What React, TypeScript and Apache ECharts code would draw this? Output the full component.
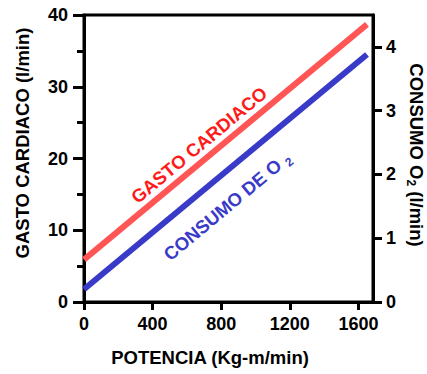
import React, { useEffect, useRef } from "react";
import * as echarts from "echarts";

const POWER = [0, 1650];
const GASTO_CARDIACO = [5.9, 38.7];
const CONSUMO_O2 = [0.2, 3.88];
const X_TICKS = [0, 400, 800, 1200, 1600];
const Y_RIGHT_TICKS = [0, 1, 2, 3, 4];

const FONT = '"Liberation Sans", Arial, Helvetica, sans-serif';
const RED_LINE = "#ff5555";
const RED_TEXT = "#ff1a1a";
const BLUE = "#3a3ac8";

export default function App() {
  const ref = useRef<HTMLDivElement>(null);
  useEffect(() => {
    document.body.style.margin = "0";
    const chart = echarts.init(ref.current!, null, { renderer: "svg" });
    const labelStyle = {
      color: "#000",
      fontFamily: FONT,
      fontWeight: "bold" as const,
      fontSize: 18,
    };
    const titleStyle = {
      fontFamily: FONT,
      fontWeight: "bold" as const,
      fontSize: 18.5,
      fill: "#000",
    };
    const fmt = (v: number) => String(v);
    const angle = (39.8 * Math.PI) / 180;
    chart.setOption({
      animation: false,
      backgroundColor: "#fff",
      grid: {
        left: 84,
        right: 54,
        top: 15,
        bottom: 72,
        show: true,
        borderColor: "#000",
        borderWidth: 3,
        backgroundColor: "transparent",
      },
      xAxis: {
        type: "value",
        min: 0,
        max: 1685,
        interval: 400,
        axisLine: { show: true, lineStyle: { color: "#000", width: 3 } },
        axisTick: {
          show: true,
          length: 8,
          lineStyle: { color: "#000", width: 3 },
          customValues: X_TICKS,
        },
        axisLabel: { ...labelStyle, margin: 13, customValues: X_TICKS, formatter: fmt },
        splitLine: { show: false },
      },
      yAxis: [
        {
          type: "value",
          min: 0,
          max: 40,
          interval: 10,
          position: "left",
          axisLine: { show: true, lineStyle: { color: "#000", width: 3 } },
          axisTick: {
            show: true,
            length: 11,
            lineStyle: { color: "#000", width: 3 },
          },
          minorTick: {
            show: true,
            splitNumber: 2,
            length: 7,
            lineStyle: { color: "#000", width: 3 },
          },
          axisLabel: { ...labelStyle, margin: 16, formatter: fmt },
          splitLine: { show: false },
          minorSplitLine: { show: false },
        },
        {
          type: "value",
          min: 0,
          max: 4.5,
          interval: 1,
          position: "right",
          axisLine: { show: true, lineStyle: { color: "#000", width: 3 } },
          axisTick: {
            show: true,
            length: 9,
            lineStyle: { color: "#000", width: 3 },
            customValues: Y_RIGHT_TICKS,
          },
          axisLabel: { ...labelStyle, margin: 13, customValues: Y_RIGHT_TICKS, formatter: fmt },
          splitLine: { show: false },
        },
      ],
      series: [
        {
          type: "line",
          yAxisIndex: 0,
          data: POWER.map((x, i) => [x, GASTO_CARDIACO[i]]),
          symbol: "none",
          lineStyle: { color: RED_LINE, width: 6, cap: "butt" },
        },
        {
          type: "line",
          yAxisIndex: 1,
          data: POWER.map((x, i) => [x, CONSUMO_O2[i]]),
          symbol: "none",
          lineStyle: { color: BLUE, width: 6, cap: "butt" },
        },
      ],
      graphic: [
        {
          type: "text",
          x: 22,
          y: 143,
          rotation: Math.PI / 2,
          style: {
            text: "GASTO CARDIACO (l/min)",
            ...titleStyle,
            align: "center",
            verticalAlign: "middle",
          },
        },
        {
          type: "text",
          x: 416,
          y: 155,
          rotation: -Math.PI / 2,
          style: {
            text: "CONSUMO O{sub|2} (l/min)",
            ...titleStyle,
            align: "center",
            verticalAlign: "middle",
            rich: {
              sub: {
                fontFamily: FONT,
                fontWeight: "bold",
                fontSize: 12,
                fill: "#000",
                padding: [11, 0, 0, 0],
              },
            },
          },
        },
        {
          type: "text",
          x: 210,
          y: 357,
          style: {
            text: "POTENCIA (Kg-m/min)",
            ...titleStyle,
            align: "center",
            verticalAlign: "middle",
          },
        },
        {
          type: "text",
          x: 199,
          y: 145,
          rotation: angle,
          style: {
            text: "GASTO CARDIACO",
            fontFamily: FONT,
            fontWeight: "bold",
            fontSize: 18.5,
            fill: RED_TEXT,
            align: "center",
            verticalAlign: "middle",
          },
        },
        {
          type: "text",
          x: 227,
          y: 206,
          rotation: angle,
          style: {
            text: "CONSUMO DE O {sub|2}",
            fontFamily: FONT,
            fontWeight: "bold",
            fontSize: 18.5,
            fill: BLUE,
            align: "center",
            verticalAlign: "middle",
            rich: {
              sub: {
                fontFamily: FONT,
                fontWeight: "bold",
                fontSize: 12,
                fill: BLUE,
                padding: [12, 0, 0, 0],
              },
            },
          },
        },
      ],
    });
    return () => chart.dispose();
  }, []);
  return (
    <div
      ref={ref}
      style={{ position: "absolute", left: 0, top: 0, width: 427, height: 374 }}
    />
  );
}
